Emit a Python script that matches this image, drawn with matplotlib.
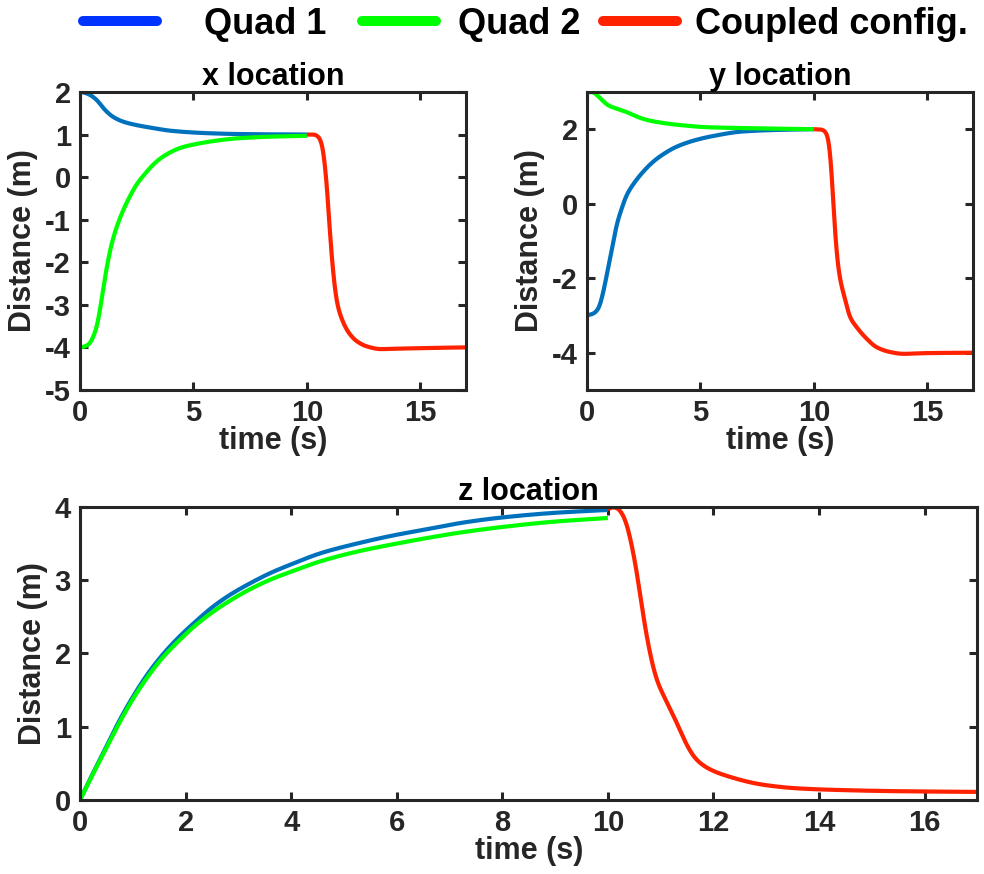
import numpy as np
import matplotlib
matplotlib.use("Agg")
import matplotlib.pyplot as plt
from matplotlib.lines import Line2D

plt.rcParams['font.family'] = ['Liberation Sans', 'DejaVu Sans']
plt.rcParams['font.weight'] = 'bold'
plt.rcParams['axes.unicode_minus'] = False

# ---------------- data ----------------
# x location
t_q1_x = [0, 0.15, 0.44, 0.74, 1.03, 1.25, 1.47, 1.91, 2.5, 3.24, 3.97, 5.45, 6.9, 8.4, 10.0]
x_q1 = [2.0, 1.99, 1.93, 1.81, 1.62, 1.50, 1.41, 1.30, 1.22, 1.15, 1.09, 1.035, 1.012, 1.004, 1.0]
t_q2_x = [0, 0.2, 0.44, 0.59, 0.74, 0.88, 1.03, 1.18, 1.32, 1.47, 1.69, 1.91, 2.2, 2.5, 2.9,
          3.24, 3.6, 3.97, 4.5, 5.45, 6.2, 6.92, 8.4, 10.0]
x_q2 = [-4.0, -3.98, -3.9, -3.74, -3.51, -3.12, -2.6, -2.12, -1.74, -1.42, -1.06, -0.77, -0.45,
        -0.17, 0.1, 0.30, 0.46, 0.58, 0.70, 0.81, 0.87, 0.91, 0.95, 0.97]
t_c_x = [10.0, 10.3, 10.52, 10.67, 10.77, 10.86, 10.96, 11.06, 11.19, 11.33, 11.55, 11.85,
         12.21, 12.66, 13.25, 13.98, 15.75, 17.0]
x_c = [1.0, 1.0, 0.94, 0.76, 0.40, -0.07, -0.85, -1.63, -2.41, -2.96, -3.35, -3.66,
       -3.86, -3.98, -4.04, -4.03, -4.01, -4.0]

# y location
t_q1_y = [0, 0.28, 0.50, 0.72, 0.87, 1.01, 1.16, 1.31, 1.53, 1.75, 2.12, 2.48, 2.85, 3.22,
          3.95, 4.68, 5.42, 6.89, 8.36, 10.0]
y_q1 = [-3.0, -2.95, -2.82, -2.37, -1.92, -1.47, -1.02, -0.57, -0.13, 0.23, 0.59, 0.86, 1.09,
        1.27, 1.53, 1.69, 1.80, 1.94, 1.98, 2.0]
t_q2_y = [0, 0.28, 0.5, 0.72, 0.94, 1.31, 1.75, 2.19, 2.63, 3.22, 3.95, 5.42, 6.89, 10.0]
y_q2 = [3.0, 2.99, 2.88, 2.75, 2.64, 2.55, 2.46, 2.34, 2.25, 2.18, 2.12, 2.05, 2.03, 2.0]
t_c_y = [10.0, 10.34, 10.56, 10.68, 10.78, 10.88, 11.0, 11.15, 11.37, 11.59, 11.88, 12.32,
         12.76, 13.35, 13.94, 14.96, 17.0]
y_c = [2.0, 1.99, 1.89, 1.58, 0.86, -0.21, -1.29, -2.01, -2.55, -3.04, -3.31, -3.62,
       -3.85, -3.98, -4.03, -4.01, -4.0]

# z location
t_q_z = [0, 0.20, 0.48, 0.75, 1.02, 1.29, 1.56, 1.84, 2.18, 2.52, 2.86, 3.2, 3.61, 4.01,
         4.56, 5.24, 5.92, 6.6, 7.28, 8.03, 8.98, 10.0]
z_q1 = [0, 0.30, 0.70, 1.09, 1.43, 1.73, 1.98, 2.20, 2.43, 2.64, 2.81, 2.95, 3.10, 3.22,
        3.37, 3.50, 3.61, 3.70, 3.79, 3.86, 3.92, 3.96]
z_q2 = [0, 0.29, 0.68, 1.06, 1.40, 1.69, 1.94, 2.15, 2.38, 2.57, 2.73, 2.87, 3.01, 3.12,
        3.26, 3.39, 3.49, 3.58, 3.66, 3.73, 3.80, 3.85]
t_c_z = [10.0, 10.06, 10.16, 10.25, 10.35, 10.44, 10.54, 10.63, 10.73, 10.83, 10.92, 11.08,
         11.27, 11.46, 11.65, 11.9, 12.29, 12.92, 13.56, 14.19, 15.46, 17.0]
z_c = [3.97, 4.0, 4.0, 3.94, 3.80, 3.52, 3.16, 2.70, 2.25, 1.89, 1.64, 1.39,
       1.11, 0.80, 0.57, 0.43, 0.32, 0.21, 0.16, 0.14, 0.12, 0.11]

legend_labels = ["Quad 1", "Quad 2", "Coupled config."]

# ---------------- style ----------------
C_Q1 = "#0072BD"
C_Q2 = "#00FF00"
C_C = "#FF2200"
LEG_Q1 = "#0033FF"
LW = 3.0
SPINE = "#262626"
FS_TICK = 21
FS_LAB = 22

def smooth(t, v, n=800, sigma=0.06):
    t = np.asarray(t, float); v = np.asarray(v, float)
    tt = np.linspace(t[0], t[-1], n)
    h = np.diff(t); d = np.diff(v) / h
    m = np.zeros_like(v)
    for k in range(1, len(v) - 1):
        if d[k-1] * d[k] > 0:
            w1 = 2*h[k] + h[k-1]; w2 = h[k] + 2*h[k-1]
            m[k] = (w1 + w2) / (w1/d[k-1] + w2/d[k])
    m[0] = d[0]
    m[-1] = d[-1]
    idx = np.clip(np.searchsorted(t, tt) - 1, 0, len(h) - 1)
    s = (tt - t[idx]) / h[idx]
    h00 = 2*s**3 - 3*s**2 + 1; h10 = s**3 - 2*s**2 + s
    h01 = -2*s**3 + 3*s**2; h11 = s**3 - s**2
    vv = h00*v[idx] + h10*h[idx]*m[idx] + h01*v[idx+1] + h11*h[idx]*m[idx+1]
    # light gaussian smoothing of the rendered curve (removes interpolation kinks)
    dt = tt[1] - tt[0]
    r = int(np.ceil(3 * sigma / dt))
    k = np.exp(-0.5 * (np.arange(-r, r + 1) * dt / sigma) ** 2)
    k /= k.sum()
    # odd reflection at the ends keeps endpoints and slopes
    left = 2 * vv[0] - vv[1:r + 1][::-1]
    right = 2 * vv[-1] - vv[-r - 1:-1][::-1]
    vs = np.convolve(np.concatenate([left, vv, right]), k, mode='valid')
    return tt, vs

def style(ax):
    for sp in ax.spines.values():
        sp.set_linewidth(2.2)
        sp.set_color(SPINE)
    ax.tick_params(direction='in', length=6, width=2.2, color=SPINE, labelcolor=SPINE,
                   top=True, right=True, labelsize=FS_TICK, pad=6.5)
    for lab in ax.get_xticklabels() + ax.get_yticklabels():
        lab.set_fontweight('bold')

fig = plt.figure(figsize=(9.84, 8.74), dpi=100)

ax1 = fig.add_axes([0.0813, 0.5538, 0.392, 0.341])
ax2 = fig.add_axes([0.5965, 0.5538, 0.392, 0.341])
ax3 = fig.add_axes([0.0813, 0.0847, 0.912, 0.3352])

for ax, (tq1, q1), (tq2, q2), (tc, c) in [
        (ax1, (t_q1_x, x_q1), (t_q2_x, x_q2), (t_c_x, x_c)),
        (ax2, (t_q1_y, y_q1), (t_q2_y, y_q2), (t_c_y, y_c)),
        (ax3, (t_q_z, z_q1), (t_q_z, z_q2), (t_c_z, z_c))]:
    ax.plot(*smooth(tq1, q1), color=C_Q1, lw=LW, solid_capstyle='butt')
    ax.plot(*smooth(tq2, q2), color=C_Q2, lw=LW, solid_capstyle='butt')
    ax.plot(*smooth(tc, c), color=C_C, lw=LW, solid_capstyle='butt')

ax1.set_xlim(0, 17); ax1.set_ylim(-5, 2)
ax1.set_xticks([0, 5, 10, 15]); ax1.set_yticks(range(-5, 3))
ax2.set_xlim(0, 17); ax2.set_ylim(-5, 3)
ax2.set_xticks([0, 5, 10, 15]); ax2.set_yticks([-4, -2, 0, 2])
ax3.set_xlim(0, 17); ax3.set_ylim(0, 4)
ax3.set_xticks(range(0, 17, 2)); ax3.set_yticks(range(0, 5))

for ax, title in [(ax1, "x location"), (ax2, "y location"), (ax3, "z location")]:
    style(ax)
    ax.set_title(title, fontsize=FS_LAB, fontweight='bold', pad=5)
    ax.set_xlabel("time (s)", fontsize=FS_LAB, fontweight='bold', labelpad=-1, color=SPINE)
    ax.set_ylabel("Distance (m)", fontsize=FS_LAB, fontweight='bold', labelpad=5, color=SPINE)

# legend: three single-entry legends placed like the reference
leg_colors = [LEG_Q1, C_Q2, C_C]
leg_x = [0.0843, 0.3679, 0.6128]
leg_pad = [1.3, 0.6, 0.5]
for lab, col, x0, pad in zip(legend_labels, leg_colors, leg_x, leg_pad):
    h = Line2D([], [], color=col, lw=7.2, solid_capstyle='round')
    fig.legend([h], [lab], loc='center left', bbox_to_anchor=(x0, 0.972),
               frameon=False, prop={'size': 26, 'weight': 'bold'},
               handlelength=2.05, handletextpad=pad, borderpad=0, borderaxespad=0)

fig.savefig("out.png", dpi=100)
